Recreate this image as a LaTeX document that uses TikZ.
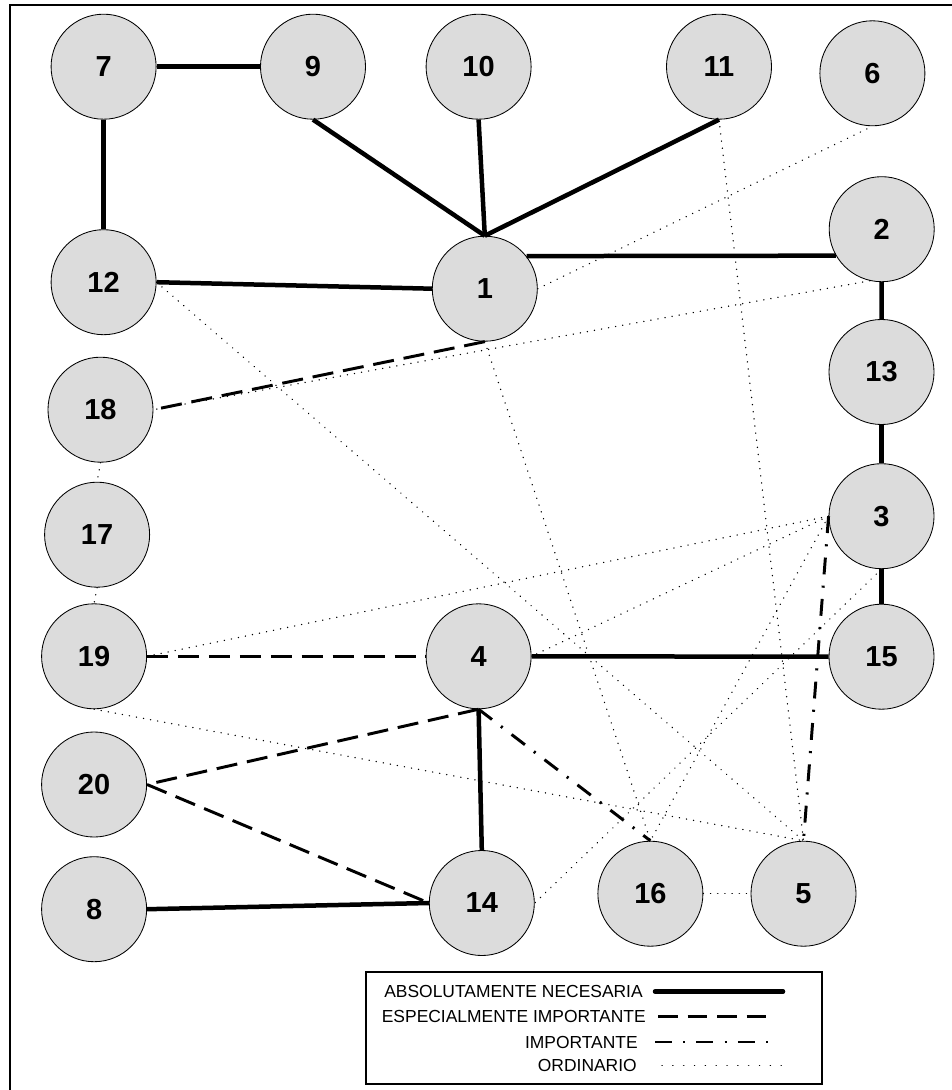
\documentclass[tikz,border=0pt]{standalone}
\usepackage{fontspec}
\setmainfont{Liberation Sans}
\usepackage{xcolor}
\definecolor{nodegray}{RGB}{220,220,220}

\begin{document}
\begin{tikzpicture}[
    x=0.025cm, y=-0.025cm,
    activity/.style={circle, draw, line width=0.6pt, fill=nodegray, minimum size=2.625cm, inner sep=0pt, font=\fontsize{20.6}{24}\selectfont\bfseries},
    absolute/.style={line width=3.2pt},
    special/.style={line width=2.1pt, dash pattern=on 15pt off 7pt},
    important/.style={line width=2.1pt, dash pattern=on 12pt off 8pt on 1.5pt off 8pt},
    ordinary/.style={line width=1pt, line cap=round, dash pattern=on 0.1pt off 5pt},
    legend/.style={anchor=east, inner sep=0pt, font=\fontsize{12.4}{14}\selectfont}
]
    \useasboundingbox (0,0) rectangle (952,1090);
    \draw[line width=1.2pt] (10,1090) -- (10,4.7) -- (952,4.7);

    % activities
    \node[activity] (n7) at (103.6,66.7) {7};
    \node[activity] (n9) at (313,66.7) {9};
    \node[activity] (n10) at (478.6,66.7) {10};
    \node[activity] (n11) at (719,66.7) {11};
    \node[activity] (n6) at (872.4,73.3) {6};
    \node[activity] (n2) at (881.7,229.2) {2};
    \node[activity] (n12) at (103.6,282.2) {12};
    \node[activity] (n1) at (484.8,288.7) {1};
    \node[activity] (n13) at (881.5,372) {13};
    \node[activity] (n18) at (100.5,409.7) {18};
    \node[activity] (n3) at (881.5,516.2) {3};
    \node[activity] (n17) at (97.1,534.7) {17};
    \node[activity] (n19) at (94.1,656.3) {19};
    \node[activity] (n4) at (478.6,656.3) {4};
    \node[activity] (n15) at (881.5,656.7) {15};
    \node[activity] (n20) at (94.1,784.5) {20};
    \node[activity] (n16) at (650.4,893.7) {16};
    \node[activity] (n5) at (803.5,893.7) {5};
    \node[activity] (n8) at (94.1,909.2) {8};
    \node[activity] (n14) at (481.8,903) {14};

    % ordinary
    \draw[ordinary] (n1.east) -- (n6.south);
    \draw[ordinary] (n11.south) -- (n5.north);
    \draw[ordinary] (n2.-103) -- (n18.east);
    \draw[ordinary] (n12.east) -- (n5.north);
    \draw[ordinary] (n1.south) -- (n16.north);
    \draw[ordinary] (n3.west) -- (n19.east);
    \draw[ordinary] (n3.west) -- (n4.east);
    \draw[ordinary] (n3.west) -- (n16.north);
    \draw[ordinary] (n3.south) -- (n14.east);
    \draw[ordinary] (n16.east) -- (n5.west);
    \draw[ordinary] (n18.south) -- (n17.north);
    \draw[ordinary] (n17.south) -- (n19.north);
    \draw[ordinary] (n19.south) -- (n5.north);

    % important
    \draw[important] (n4.south) -- (n16.north);
    \draw[important] (n3.west) -- (n5.north);

    % especially important
    \draw[special] (n1.south) -- (n18.east);
    \draw[special] (n19.east) -- (n4.west);
    \draw[special] (n4.south) -- (n20.east);
    \draw[special] (n20.east) -- (n14.west);

    % absolutely necessary
    \draw[absolute] (n7.east) -- (n9.west);
    \draw[absolute] (n7.south) -- (n12.north);
    \draw[absolute] (n9.south) -- (n1.north);
    \draw[absolute] (n10.south) -- (n1.north);
    \draw[absolute] (n11.south) -- (n1.north);
    \draw[absolute] (n12.east) -- (n1.west);
    \draw[absolute] (n1.38) -- (n2.210);
    \draw[absolute] (n2.south) -- (n13.north);
    \draw[absolute] (n13.south) -- (n3.north);
    \draw[absolute] (n3.south) -- (n15.north);
    \draw[absolute] (n4.east) -- (n15.west);
    \draw[absolute] (n14.north) -- (n4.south);
    \draw[absolute] (n8.east) -- (n14.west);

    % legend
    \draw[line width=1pt] (366,972) rectangle (822,1084);
    \node[legend] (lg1) at (643,991.5) {ABSOLUTAMENTE NECESARIA};
    \node[legend] (lg2) at (646,1016.5) {ESPECIALMENTE IMPORTANTE};
    \node[legend] (lg3) at (638,1042) {IMPORTANTE};
    \node[legend] (lg4) at (637,1065.5) {ORDINARIO};
    \draw[absolute, line cap=round] (lg1.east) ++(12,0) -- ++(128,0);
    \draw[special, dash pattern=on 14pt off 7pt] (lg2.east) ++(12,0) -- ++(117,0);
    \draw[important] (lg3.east) ++(17,0) -- ++(123,0);
    \draw[ordinary, dash pattern=on 0.1pt off 7.6pt] (lg4.east) ++(25,0) -- ++(121,0);
\end{tikzpicture}
\end{document}
